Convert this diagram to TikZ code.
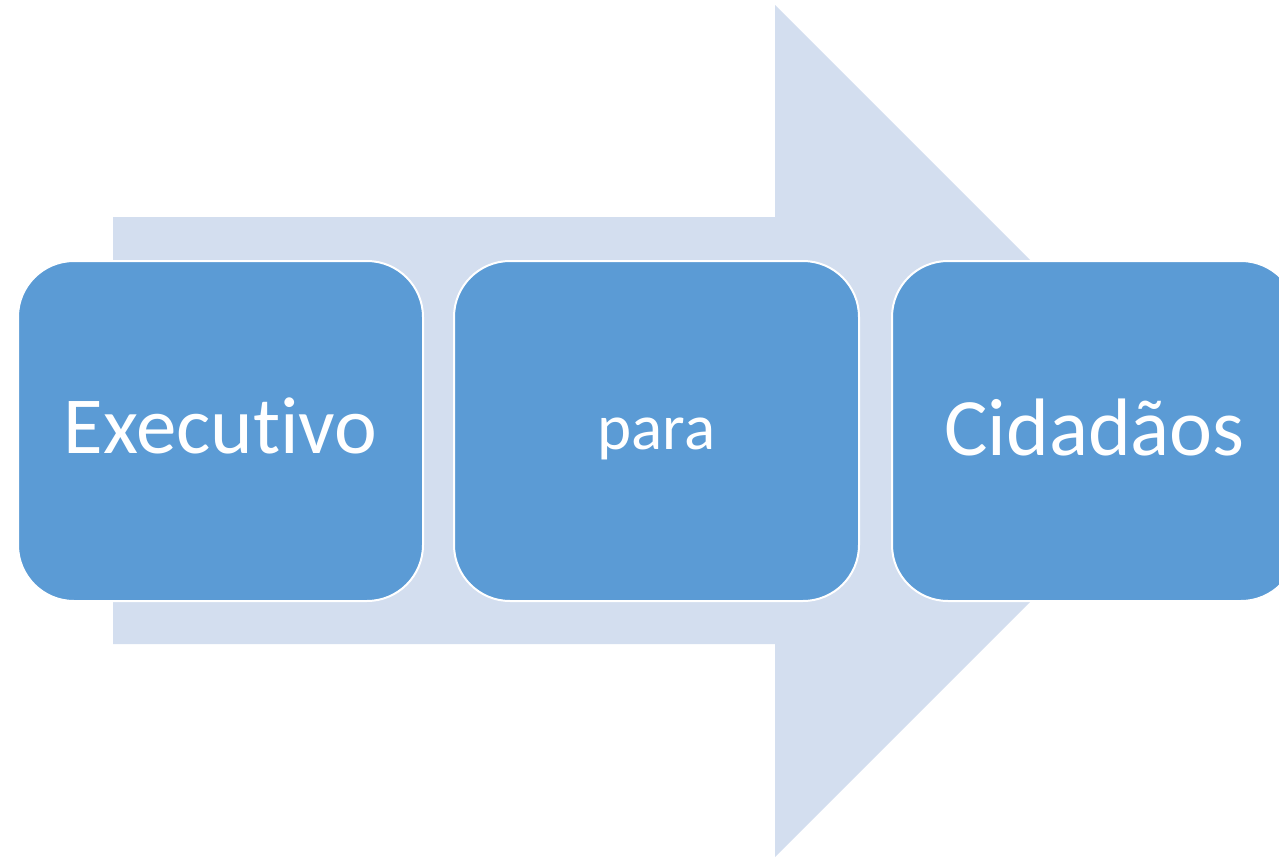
\documentclass[tikz,border=0pt]{standalone}
\usepackage{fontspec}
\setmainfont{Carlito}[Ligatures=NoCommon]
\definecolor{arrowfill}{RGB}{211,222,239}
\definecolor{boxfill}{RGB}{91,155,213}
\begin{document}
\begin{tikzpicture}[x=1pt,y=-1pt,
  stagebox/.style={draw=white, line width=2pt, fill=boxfill, rounded corners=56pt,
    minimum width=405pt, minimum height=340pt, inner sep=0pt, text=white, align=center}]
\useasboundingbox (0,0) rectangle (1279,857);
\clip (0,0) rectangle (1279,857);
\fill[arrowfill] (113,217) -- (775,217) -- (775,5) -- (1201,431) -- (775,857) -- (775,644) -- (113,644) -- cycle;
\node[stagebox, text height=44pt, text depth=0pt, font=\fontsize{81}{90}\selectfont] (exec) at (220.5,431) {Executivo};
\node[stagebox, text height=36pt, text depth=0pt, font=\fontsize{65}{72}\selectfont] (para) at (656.5,431) {para};
\node[stagebox, text height=48pt, text depth=0pt, font=\fontsize{81.5}{90}\selectfont] (cid) at (1094.5,431) {Cidadãos};
\end{tikzpicture}
\end{document}
